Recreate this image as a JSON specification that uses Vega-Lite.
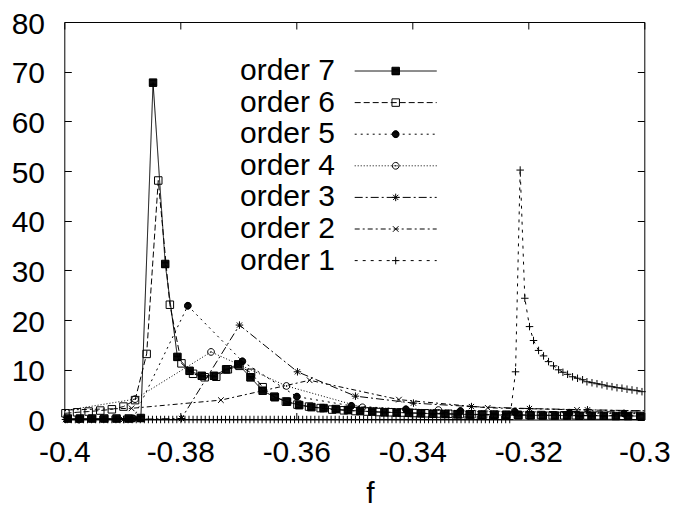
{
"$schema": "https://vega.github.io/schema/vega-lite/v6.json",
"width": 580, "height": 397.5,
"autosize": "none",
"padding": {"left": 64.3, "top": 22, "right": 30, "bottom": 88},
"background": "white",
"config": {
  "view": {"stroke": "black", "strokeWidth": 1},
  "font": "Liberation Sans",
  "axis": {"grid": false, "domain": false, "tickColor": "black", "tickWidth": 1, "tickSize": -7, "labelFont": "Liberation Sans", "labelFontSize": 30, "labelColor": "black", "titleFont": "Liberation Sans", "titleFontSize": 30, "titleFontWeight": "normal", "titleColor": "black", "labelFlush": false, "labelOverlap": false}
},
"datasets": {"d": [
{"s":"order 7","f":-0.3994,"v":0.2},{"s":"order 7","f":-0.3973,"v":0.2},{"s":"order 7","f":-0.3952,"v":0.2},{"s":"order 7","f":-0.3931,"v":0.2},{"s":"order 7","f":-0.3910,"v":0.2},{"s":"order 7","f":-0.3889,"v":0.2},{"s":"order 7","f":-0.3868,"v":0.3},{"s":"order 7","f":-0.3847,"v":67.8},{"s":"order 7","f":-0.3826,"v":31.3},{"s":"order 7","f":-0.3805,"v":12.6},{"s":"order 7","f":-0.3784,"v":9.8},{"s":"order 7","f":-0.3763,"v":8.8},{"s":"order 7","f":-0.3742,"v":8.8},{"s":"order 7","f":-0.3721,"v":10.1},{"s":"order 7","f":-0.3700,"v":11.1},{"s":"order 7","f":-0.3679,"v":8.5},{"s":"order 7","f":-0.3658,"v":5.8},{"s":"order 7","f":-0.3637,"v":4.5},{"s":"order 7","f":-0.3616,"v":3.6},{"s":"order 7","f":-0.3595,"v":2.9},{"s":"order 7","f":-0.3574,"v":2.5},{"s":"order 7","f":-0.3553,"v":2.3},{"s":"order 7","f":-0.3532,"v":2.1},{"s":"order 7","f":-0.3511,"v":1.9},{"s":"order 7","f":-0.3490,"v":1.7},{"s":"order 7","f":-0.3469,"v":1.6},{"s":"order 7","f":-0.3448,"v":1.45},{"s":"order 7","f":-0.3427,"v":1.4},{"s":"order 7","f":-0.3406,"v":1.35},{"s":"order 7","f":-0.3385,"v":1.25},{"s":"order 7","f":-0.3364,"v":1.15},{"s":"order 7","f":-0.3343,"v":1.1},{"s":"order 7","f":-0.3322,"v":1.05},{"s":"order 7","f":-0.3301,"v":1.0},{"s":"order 7","f":-0.3280,"v":0.95},{"s":"order 7","f":-0.3259,"v":0.9},{"s":"order 7","f":-0.3238,"v":0.9},{"s":"order 7","f":-0.3217,"v":0.85},{"s":"order 7","f":-0.3196,"v":0.85},{"s":"order 7","f":-0.3175,"v":0.8},{"s":"order 7","f":-0.3154,"v":0.8},{"s":"order 7","f":-0.3133,"v":0.8},{"s":"order 7","f":-0.3112,"v":0.75},{"s":"order 7","f":-0.3091,"v":0.75},{"s":"order 7","f":-0.3070,"v":0.75},{"s":"order 7","f":-0.3049,"v":0.7},{"s":"order 7","f":-0.3028,"v":0.7},{"s":"order 7","f":-0.3007,"v":0.7},
{"s":"order 6","f":-0.3998,"v":1.25},{"s":"order 6","f":-0.3978,"v":1.45},{"s":"order 6","f":-0.3958,"v":1.6},{"s":"order 6","f":-0.3938,"v":1.8},{"s":"order 6","f":-0.3918,"v":2.05},{"s":"order 6","f":-0.3898,"v":2.6},{"s":"order 6","f":-0.3878,"v":3.9},{"s":"order 6","f":-0.3858,"v":13.2},{"s":"order 6","f":-0.3838,"v":48.1},{"s":"order 6","f":-0.3818,"v":23.1},{"s":"order 6","f":-0.3798,"v":11.3},{"s":"order 6","f":-0.3778,"v":9.2},{"s":"order 6","f":-0.3758,"v":8.5},{"s":"order 6","f":-0.3738,"v":8.6},{"s":"order 6","f":-0.3718,"v":10.1},{"s":"order 6","f":-0.3698,"v":10.8},{"s":"order 6","f":-0.3678,"v":9.4},{"s":"order 6","f":-0.3658,"v":6.5},{"s":"order 6","f":-0.3638,"v":4.6},{"s":"order 6","f":-0.3618,"v":3.6},{"s":"order 6","f":-0.3598,"v":3.0},{"s":"order 6","f":-0.3578,"v":2.6},{"s":"order 6","f":-0.3558,"v":2.3},{"s":"order 6","f":-0.3538,"v":2.0},{"s":"order 6","f":-0.3518,"v":1.85},{"s":"order 6","f":-0.3498,"v":1.7},{"s":"order 6","f":-0.3478,"v":1.6},{"s":"order 6","f":-0.3458,"v":1.5},{"s":"order 6","f":-0.3438,"v":1.45},{"s":"order 6","f":-0.3418,"v":1.4},{"s":"order 6","f":-0.3398,"v":1.3},{"s":"order 6","f":-0.3378,"v":1.25},{"s":"order 6","f":-0.3358,"v":1.2},{"s":"order 6","f":-0.3338,"v":1.15},{"s":"order 6","f":-0.3318,"v":1.1},{"s":"order 6","f":-0.3298,"v":1.05},{"s":"order 6","f":-0.3278,"v":1.0},{"s":"order 6","f":-0.3258,"v":1.0},{"s":"order 6","f":-0.3238,"v":0.95},{"s":"order 6","f":-0.3218,"v":0.95},{"s":"order 6","f":-0.3198,"v":0.9},{"s":"order 6","f":-0.3178,"v":0.9},{"s":"order 6","f":-0.3158,"v":0.85},{"s":"order 6","f":-0.3138,"v":0.85},{"s":"order 6","f":-0.3118,"v":0.85},{"s":"order 6","f":-0.3098,"v":0.8},{"s":"order 6","f":-0.3078,"v":0.8},{"s":"order 6","f":-0.3058,"v":0.8},{"s":"order 6","f":-0.3038,"v":0.75},{"s":"order 6","f":-0.3018,"v":0.75},
{"s":"order 5","f":-0.3975,"v":0},{"s":"order 5","f":-0.3881,"v":0.2},{"s":"order 5","f":-0.3787,"v":22.9},{"s":"order 5","f":-0.3693,"v":11.7},{"s":"order 5","f":-0.3599,"v":4.6},{"s":"order 5","f":-0.3505,"v":2.75},{"s":"order 5","f":-0.3411,"v":2.05},{"s":"order 5","f":-0.3317,"v":1.7},{"s":"order 5","f":-0.3223,"v":1.5},{"s":"order 5","f":-0.3129,"v":1.35},{"s":"order 5","f":-0.3035,"v":1.2},{"s":"order 5","f":-0.2941,"v":1.1},
{"s":"order 4","f":-0.4009,"v":1.6},{"s":"order 4","f":-0.3878,"v":4.1},{"s":"order 4","f":-0.3747,"v":13.6},{"s":"order 4","f":-0.3617,"v":6.75},{"s":"order 4","f":-0.3486,"v":2.45},{"s":"order 4","f":-0.3355,"v":1.9},{"s":"order 4","f":-0.3224,"v":1.6},{"s":"order 4","f":-0.3094,"v":1.4},{"s":"order 4","f":-0.2963,"v":1.3},
{"s":"order 3","f":-0.3998,"v":0},{"s":"order 3","f":-0.3898,"v":0},{"s":"order 3","f":-0.3798,"v":0.2},{"s":"order 3","f":-0.3698,"v":19.0},{"s":"order 3","f":-0.3598,"v":9.6},{"s":"order 3","f":-0.3498,"v":4.7},{"s":"order 3","f":-0.3398,"v":3.3},{"s":"order 3","f":-0.3298,"v":2.6},{"s":"order 3","f":-0.3198,"v":2.2},{"s":"order 3","f":-0.3098,"v":1.95},{"s":"order 3","f":-0.2998,"v":1.75},
{"s":"order 2","f":-0.4037,"v":1.8},{"s":"order 2","f":-0.3884,"v":2.25},{"s":"order 2","f":-0.3730,"v":3.9},{"s":"order 2","f":-0.3577,"v":7.9},{"s":"order 2","f":-0.3423,"v":4.0},{"s":"order 2","f":-0.3270,"v":2.35},{"s":"order 2","f":-0.3116,"v":1.95},{"s":"order 2","f":-0.2963,"v":1.65},
{"s":"order 1","f":-0.3995,"v":0},{"s":"order 1","f":-0.3988,"v":0},{"s":"order 1","f":-0.3981,"v":0},{"s":"order 1","f":-0.3974,"v":0},{"s":"order 1","f":-0.3967,"v":0},{"s":"order 1","f":-0.3960,"v":0},{"s":"order 1","f":-0.3953,"v":0},{"s":"order 1","f":-0.3946,"v":0},{"s":"order 1","f":-0.3939,"v":0},{"s":"order 1","f":-0.3932,"v":0},
{"s":"order 1","f":-0.3925,"v":0},{"s":"order 1","f":-0.3918,"v":0},{"s":"order 1","f":-0.3911,"v":0},{"s":"order 1","f":-0.3904,"v":0},{"s":"order 1","f":-0.3897,"v":0},{"s":"order 1","f":-0.3890,"v":0},{"s":"order 1","f":-0.3883,"v":0},{"s":"order 1","f":-0.3876,"v":0},{"s":"order 1","f":-0.3869,"v":0},{"s":"order 1","f":-0.3862,"v":0},
{"s":"order 1","f":-0.3855,"v":0},{"s":"order 1","f":-0.3848,"v":0},{"s":"order 1","f":-0.3841,"v":0},{"s":"order 1","f":-0.3834,"v":0},{"s":"order 1","f":-0.3827,"v":0},{"s":"order 1","f":-0.3820,"v":0},{"s":"order 1","f":-0.3813,"v":0},{"s":"order 1","f":-0.3806,"v":0},{"s":"order 1","f":-0.3799,"v":0},{"s":"order 1","f":-0.3792,"v":0},
{"s":"order 1","f":-0.3785,"v":0},{"s":"order 1","f":-0.3778,"v":0},{"s":"order 1","f":-0.3771,"v":0},{"s":"order 1","f":-0.3764,"v":0},{"s":"order 1","f":-0.3757,"v":0},{"s":"order 1","f":-0.3750,"v":0},{"s":"order 1","f":-0.3743,"v":0},{"s":"order 1","f":-0.3736,"v":0},{"s":"order 1","f":-0.3729,"v":0},{"s":"order 1","f":-0.3722,"v":0},
{"s":"order 1","f":-0.3715,"v":0},{"s":"order 1","f":-0.3708,"v":0},{"s":"order 1","f":-0.3701,"v":0},{"s":"order 1","f":-0.3694,"v":0},{"s":"order 1","f":-0.3687,"v":0},{"s":"order 1","f":-0.3680,"v":0},{"s":"order 1","f":-0.3673,"v":0},{"s":"order 1","f":-0.3666,"v":0},{"s":"order 1","f":-0.3659,"v":0},{"s":"order 1","f":-0.3652,"v":0},
{"s":"order 1","f":-0.3645,"v":0},{"s":"order 1","f":-0.3638,"v":0},{"s":"order 1","f":-0.3631,"v":0},{"s":"order 1","f":-0.3624,"v":0},{"s":"order 1","f":-0.3617,"v":0},{"s":"order 1","f":-0.3610,"v":0},{"s":"order 1","f":-0.3603,"v":0},{"s":"order 1","f":-0.3596,"v":0},{"s":"order 1","f":-0.3589,"v":0},{"s":"order 1","f":-0.3582,"v":0},
{"s":"order 1","f":-0.3575,"v":0},{"s":"order 1","f":-0.3568,"v":0},{"s":"order 1","f":-0.3561,"v":0},{"s":"order 1","f":-0.3554,"v":0},{"s":"order 1","f":-0.3547,"v":0},{"s":"order 1","f":-0.3540,"v":0},{"s":"order 1","f":-0.3533,"v":0},{"s":"order 1","f":-0.3526,"v":0},{"s":"order 1","f":-0.3519,"v":0},{"s":"order 1","f":-0.3512,"v":0},
{"s":"order 1","f":-0.3505,"v":0},{"s":"order 1","f":-0.3498,"v":0},{"s":"order 1","f":-0.3491,"v":0},{"s":"order 1","f":-0.3484,"v":0},{"s":"order 1","f":-0.3477,"v":0},{"s":"order 1","f":-0.3470,"v":0},{"s":"order 1","f":-0.3463,"v":0},{"s":"order 1","f":-0.3456,"v":0},{"s":"order 1","f":-0.3449,"v":0},{"s":"order 1","f":-0.3442,"v":0},
{"s":"order 1","f":-0.3435,"v":0},{"s":"order 1","f":-0.3428,"v":0},{"s":"order 1","f":-0.3421,"v":0},{"s":"order 1","f":-0.3414,"v":0},{"s":"order 1","f":-0.3407,"v":0},{"s":"order 1","f":-0.3400,"v":0},{"s":"order 1","f":-0.3393,"v":0},{"s":"order 1","f":-0.3386,"v":0},{"s":"order 1","f":-0.3379,"v":0},{"s":"order 1","f":-0.3372,"v":0},
{"s":"order 1","f":-0.3365,"v":0},{"s":"order 1","f":-0.3358,"v":0},{"s":"order 1","f":-0.3351,"v":0},{"s":"order 1","f":-0.3344,"v":0},{"s":"order 1","f":-0.3337,"v":0},{"s":"order 1","f":-0.3330,"v":0},{"s":"order 1","f":-0.3323,"v":0},{"s":"order 1","f":-0.3316,"v":0},{"s":"order 1","f":-0.3309,"v":0},{"s":"order 1","f":-0.3302,"v":0},
{"s":"order 1","f":-0.3295,"v":0},{"s":"order 1","f":-0.3288,"v":0},{"s":"order 1","f":-0.3281,"v":0},{"s":"order 1","f":-0.3274,"v":0},{"s":"order 1","f":-0.3267,"v":0},{"s":"order 1","f":-0.3260,"v":0},{"s":"order 1","f":-0.3253,"v":0},{"s":"order 1","f":-0.3246,"v":0},{"s":"order 1","f":-0.3239,"v":0},{"s":"order 1","f":-0.3232,"v":0},
{"s":"order 1","f":-0.3222,"v":9.6},{"s":"order 1","f":-0.3214,"v":50.2},{"s":"order 1","f":-0.3206,"v":24.4},{"s":"order 1","f":-0.31979,"v":18.7},{"s":"order 1","f":-0.3191,"v":15.9},{"s":"order 1","f":-0.31823,"v":13.9},{"s":"order 1","f":-0.31737,"v":12.8},{"s":"order 1","f":-0.31651,"v":11.65},{"s":"order 1","f":-0.31565,"v":10.8},{"s":"order 1","f":-0.31478,"v":10.0},{"s":"order 1","f":-0.31403,"v":9.5},{"s":"order 1","f":-0.31323,"v":9.1},{"s":"order 1","f":-0.31237,"v":8.6},{"s":"order 1","f":-0.31151,"v":8.3},{"s":"order 1","f":-0.31064,"v":8.0},{"s":"order 1","f":-0.30989,"v":7.6},{"s":"order 1","f":-0.30902,"v":7.4},{"s":"order 1","f":-0.30816,"v":7.2},{"s":"order 1","f":-0.3073,"v":7.0},{"s":"order 1","f":-0.30643,"v":6.75},{"s":"order 1","f":-0.30557,"v":6.6},{"s":"order 1","f":-0.30471,"v":6.4},{"s":"order 1","f":-0.30385,"v":6.3},{"s":"order 1","f":-0.30298,"v":6.1},{"s":"order 1","f":-0.30212,"v":5.95},{"s":"order 1","f":-0.30126,"v":5.8},{"s":"order 1","f":-0.3004,"v":5.6}
]},
"layer": [
  {
    "data": {"name": "d"},
    "mark": {"type": "line", "clip": true, "color": "black", "strokeWidth": 1},
    "encoding": {
      "x": {"field": "f", "type": "quantitative",
        "scale": {"domain": [-0.4, -0.3], "nice": false, "zero": false},
        "axis": {"orient": "bottom", "values": [-0.4, -0.38, -0.36, -0.34, -0.32, -0.3],
          "labelExpr": "replace(format(datum.value, '.2~f'), '\u2212', '-')",
          "labelPadding": 25.3, "title": "f", "titleX": 305.7, "titleY": 83, "titleBaseline": "alphabetic", "titleAlign": "center"}},
      "y": {"field": "v", "type": "quantitative",
        "scale": {"domain": [0, 80], "nice": false},
        "axis": {"orient": "left", "values": [0, 10, 20, 30, 40, 50, 60, 70, 80], "labelPadding": 26.8, "labelOffset": 2, "title": null}},
      "strokeDash": {"field": "s", "type": "nominal",
        "scale": {"domain": ["order 7", "order 6", "order 5", "order 4", "order 3", "order 2", "order 1"],
          "range": [[1, 0], [6, 3], [2, 4], [1, 2], [8, 3, 2, 3], [5, 3, 2, 3], [3, 5]]},
        "legend": {"orient": "none", "legendX": 316.4, "legendY": 34, "title": null,
          "symbolType": "M-5,0H5", "symbolSize": 269, "symbolStrokeWidth": 1, "symbolStrokeColor": "black",
          "labelAlign": "right", "labelOffset": -75.7, "labelFontSize": 30, "labelFont": "Liberation Sans", "labelColor": "black",
          "labelLimit": 0, "rowPadding": 1.6, "padding": 0}}
    }
  },
  {
    "data": {"name": "d"},
    "transform": [{"filter": "datum.f >= -0.4001 && datum.f <= -0.2999"}, {"calculate": "datum.s", "as": "m"}],
    "mark": {"type": "point", "filled": false, "color": "black", "strokeWidth": 1, "size": 56, "opacity": 1},
    "encoding": {
      "x": {"field": "f", "type": "quantitative",
        "axis": {"orient": "top", "values": [-0.4, -0.38, -0.36, -0.34, -0.32, -0.3], "labels": false, "title": null}},
      "y": {"field": "v", "type": "quantitative",
        "axis": {"orient": "right", "values": [0, 10, 20, 30, 40, 50, 60, 70, 80], "labels": false, "title": null}},
      "shape": {"field": "m", "type": "nominal", "sort": "descending",
        "scale": {"range": [
          "M-1,-1H1V1H-1ZM-1,-0.85H1M-1,-0.7H1M-1,-0.55H1M-1,-0.4H1M-1,-0.25H1M-1,-0.1H1M-1,0.05H1M-1,0.2H1M-1,0.35H1M-1,0.5H1M-1,0.65H1M-1,0.8H1M-1,0.95H1",
          "M-1,-1H1V1H-1Z",
          "M0.9,0L0.831,0.344L0.636,0.636L0.344,0.831L0,0.9L-0.344,0.831L-0.636,0.636L-0.831,0.344L-0.9,0L-0.831,-0.344L-0.636,-0.636L-0.344,-0.831L0,-0.9L0.344,-0.831L0.636,-0.636L0.831,-0.344ZM-0.296,-0.85H0.296M-0.497,-0.75H0.497M-0.671,-0.6H0.671M-0.779,-0.45H0.779M-0.849,-0.3H0.849M-0.887,-0.15H0.887M-0.9,0H0.9M-0.887,0.15H0.887M-0.849,0.3H0.849M-0.779,0.45H0.779M-0.671,0.6H0.671M-0.497,0.75H0.497M-0.296,0.85H0.296",
          "M0.9,0L0.831,0.344L0.636,0.636L0.344,0.831L0,0.9L-0.344,0.831L-0.636,0.636L-0.831,0.344L-0.9,0L-0.831,-0.344L-0.636,-0.636L-0.344,-0.831L0,-0.9L0.344,-0.831L0.636,-0.636L0.831,-0.344ZM-0.13,0H0.13M0,-0.13V0.13",
          "M-1,0H1M0,-1V1M-0.7,-0.7L0.7,0.7M-0.7,0.7L0.7,-0.7",
          "M-0.75,-0.75L0.75,0.75M-0.75,0.75L0.75,-0.75",
          "M-1,0H1M0,-1V1"]},
        "legend": {"orient": "none", "legendX": 316.4, "legendY": 34, "title": null, "symbolSize": 56, "symbolStrokeWidth": 1, "symbolStrokeColor": "black", "symbolFillColor": "transparent",
          "labelFontSize": 30, "labelOpacity": 0, "rowPadding": 1.6, "padding": 0}}
    }
  }
]
}
